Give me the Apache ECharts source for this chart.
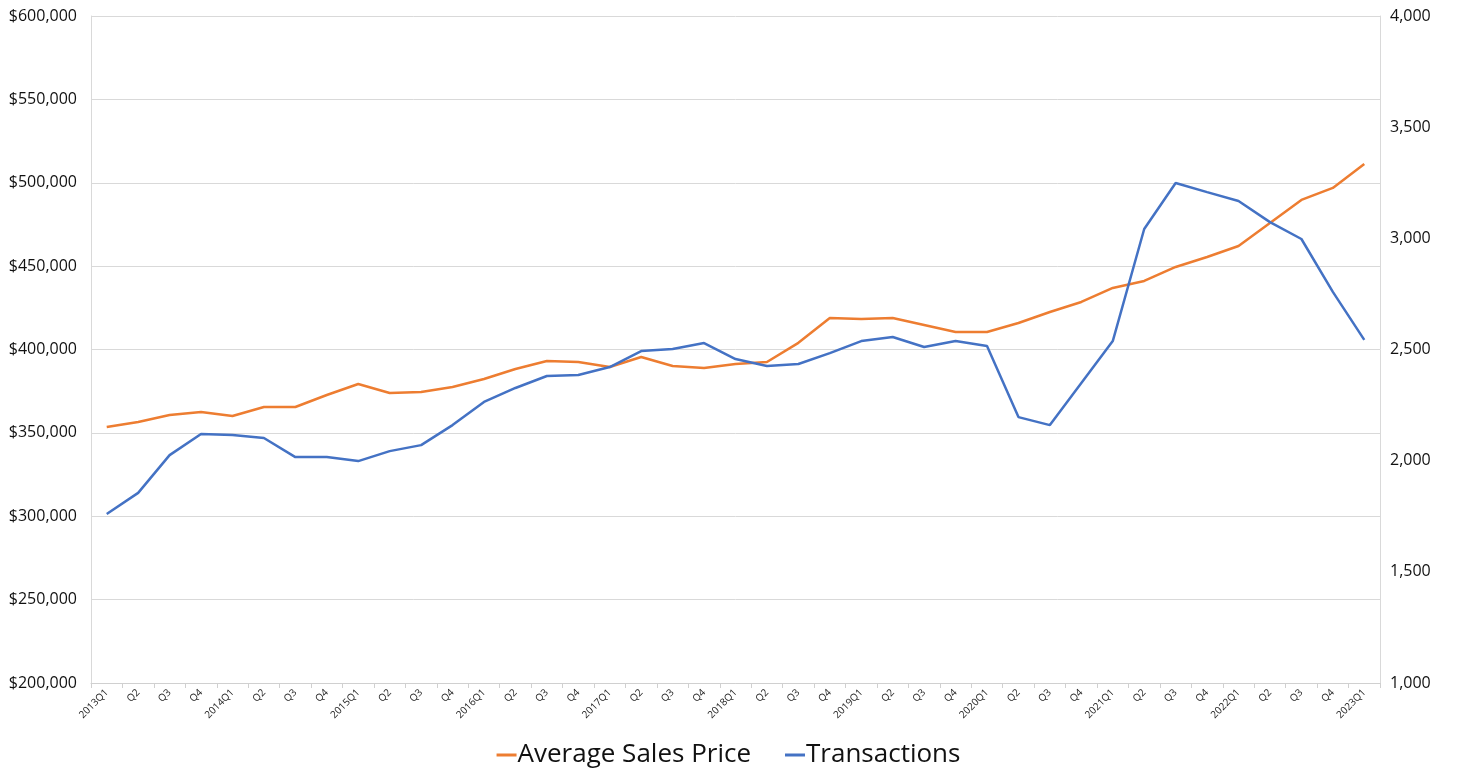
<!DOCTYPE html>
<html>
<head>
<meta charset="utf-8">
<script src="https://cdn.jsdelivr.net/npm/echarts@6/dist/echarts.min.js"></script>
<style>
html, body { margin: 0; padding: 0; background: #fff; }
#chart { width: 1457px; height: 770px; }
</style>
</head>
<body>
<div id="chart"></div>
<script>
var quarters = [
    '2013Q1', 'Q2', 'Q3', 'Q4',
    '2014Q1', 'Q2', 'Q3', 'Q4',
    '2015Q1', 'Q2', 'Q3', 'Q4',
    '2016Q1', 'Q2', 'Q3', 'Q4',
    '2017Q1', 'Q2', 'Q3', 'Q4',
    '2018Q1', 'Q2', 'Q3', 'Q4',
    '2019Q1', 'Q2', 'Q3', 'Q4',
    '2020Q1', 'Q2', 'Q3', 'Q4',
    '2021Q1', 'Q2', 'Q3', 'Q4',
    '2022Q1', 'Q2', 'Q3', 'Q4',
    '2023Q1'
];

var avgPrice = [
    353500, 356500, 360700, 362500, 360100, 365500, 365500, 372700, 379300, 373900,
    374500, 377500, 382300, 388300, 393100, 392500, 389500, 395500, 390100, 388900,
    391300, 392500, 404000, 418900, 418300, 418900, 414700, 410500, 410500, 415900,
    422500, 428500, 436900, 441100, 449500, 455500, 462100, 475900, 489700, 496900,
    511200
];

var transactions = [
    1760, 1855, 2025, 2120, 2115, 2102, 2016, 2016, 1998, 2043,
    2070, 2160, 2264, 2327, 2381, 2385, 2421, 2493, 2502, 2529,
    2457, 2426, 2435, 2484, 2538, 2556, 2511, 2538, 2516, 2196,
    2160, 2349, 2538, 3042, 3249, 3208, 3168, 3073, 2997, 2759,
    2543
];

var fontName = '"Open Sans", "Liberation Sans", sans-serif';

var chart = echarts.init(document.getElementById('chart'));
chart.setOption({
    animation: false,
    textStyle: { fontFamily: fontName },
    grid: { left: 91, right: 77, top: 16, bottom: 87, containLabel: false },
    legend: {
        bottom: -3,
        left: 'center',
        itemGap: 34,
        itemWidth: 20,
        itemHeight: 3,
        icon: 'rect',
        textStyle: { fontSize: 26, color: '#111', fontFamily: fontName, padding: [0, 0, 0, -4] },
        data: ['Average Sales Price', 'Transactions']
    },
    xAxis: {
        type: 'category',
        boundaryGap: true,
        data: quarters,
        axisLine: { lineStyle: { color: '#d0d0d0', width: 1 } },
        axisTick: { show: true, interval: 0, length: 5, lineStyle: { color: '#d0d0d0' } },
        axisLabel: { interval: 0, rotate: 45, fontSize: 10, color: '#222', margin: 8 }
    },
    yAxis: [
        {
            type: 'value',
            min: 200000,
            max: 600000,
            interval: 50000,
            axisLine: { show: true, lineStyle: { color: '#d9d9d9' } },
            splitLine: { lineStyle: { color: '#d9d9d9', width: 1 } },
            axisLabel: {
                fontSize: 16,
                color: '#111',
                margin: 14,
                formatter: function (v) { return '$' + v.toLocaleString('en-US'); }
            }
        },
        {
            type: 'value',
            min: 1000,
            max: 4000,
            interval: 500,
            axisLine: { show: true, lineStyle: { color: '#d9d9d9' } },
            splitLine: { show: false },
            axisLabel: {
                fontSize: 16,
                color: '#111',
                margin: 10,
                formatter: function (v) { return v.toLocaleString('en-US'); }
            }
        }
    ],
    series: [
        {
            name: 'Average Sales Price',
            type: 'line',
            yAxisIndex: 0,
            data: avgPrice,
            symbol: 'none',
            color: '#ED7D31',
            lineStyle: { width: 2.5, color: '#ED7D31' }
        },
        {
            name: 'Transactions',
            type: 'line',
            yAxisIndex: 1,
            data: transactions,
            symbol: 'none',
            color: '#4472C4',
            lineStyle: { width: 2.5, color: '#4472C4' }
        }
    ]
});
</script>
</body>
</html>
